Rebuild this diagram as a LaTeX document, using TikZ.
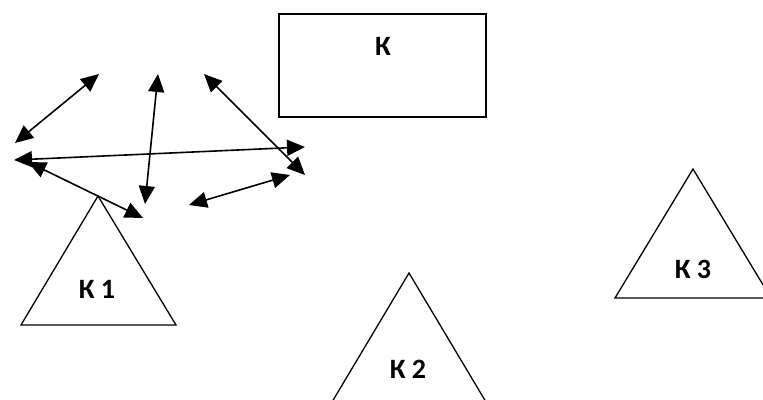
\documentclass[tikz,border=0pt]{standalone}
\usepackage{fontspec}
\setmainfont{Carlito}
\usetikzlibrary{arrows.meta, positioning}

\begin{document}
\begin{tikzpicture}[x=1pt, y=1pt,
    lbl/.style={font=\fontsize{28}{30}\selectfont\bfseries, inner sep=0},
    tri/.style={line width=1.3pt, line join=miter},
    twoway/.style={{Triangle[length=18pt,width=16pt]}-{Triangle[length=18pt,width=16pt]}, line width=1.6pt}]

\useasboundingbox (0,0) rectangle (763,399);

\node[draw,
    line width=1.6pt,
    minimum width=207pt,
    minimum height=103pt,
    inner sep=0] (box) at (382.5,333.5) {};
\node[lbl] (k) at (383,353) {К};

% triangles
\draw[tri] (98,203) -- (21,74) -- (176,74) -- cycle;
\node[lbl] (k1) at (97,110) {К 1};

\draw[tri] (409,126) -- (332,-3) -- (486,-3) -- cycle;
\node[lbl] (k2) at (408,30) {К 2};

\draw[tri] (693,230) -- (615,101) -- (771,101) -- cycle;
\node[lbl] (k3) at (693,130) {К 3};

% arrow ends
\coordinate (a1) at (15,256);
\coordinate (b1) at (99,325);
\coordinate (a2) at (158,325);
\coordinate (b2) at (145,195);
\coordinate (a3) at (204,325);
\coordinate (b3) at (305,224);
\coordinate (a4) at (14,239);
\coordinate (b4) at (305,252);
\coordinate (a5) at (28,237);
\coordinate (b5) at (143,181);
\coordinate (a6) at (189,194);
\coordinate (b6) at (290,224);

\draw[twoway] (a1) -- (b1);
\draw[twoway] (a2) -- (b2);
\draw[twoway] (a3) -- (b3);
\draw[twoway] (a4) -- (b4);
\draw[twoway] (a5) -- (b5);
\draw[twoway] (a6) -- (b6);

\end{tikzpicture}
\end{document}
